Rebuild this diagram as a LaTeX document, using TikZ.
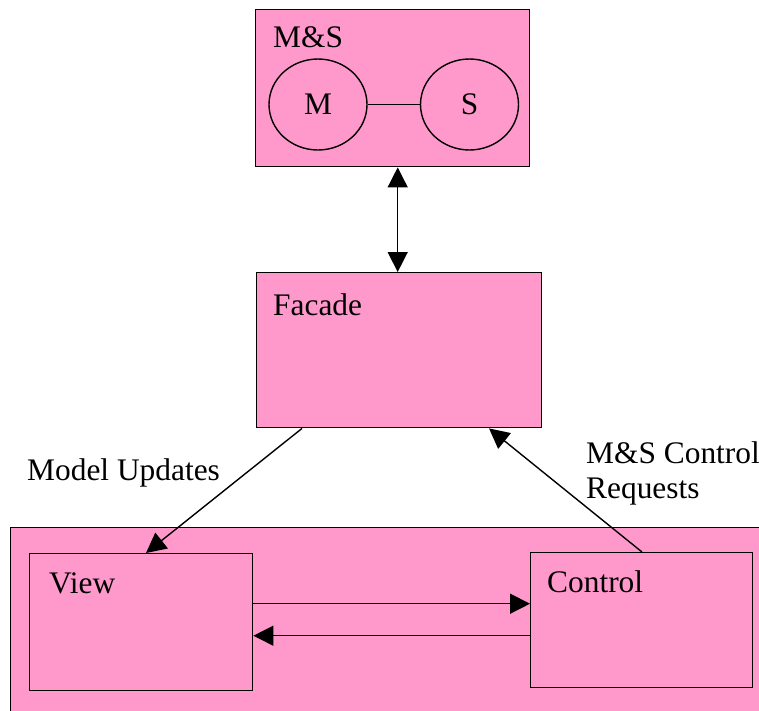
\documentclass[tikz,border=0pt]{standalone}
\usepackage{fontspec}
\setmainfont{Liberation Serif}
\usetikzlibrary{arrows.meta,positioning,shapes.geometric}
\definecolor{rosepink}{HTML}{FF99CC}
\tikzset{
  caja/.style={
    draw=black,
    fill=rosepink,
    line width=1.4pt,
    inner sep=0pt,
    anchor=north west
  },
  bola/.style={
    ellipse,
    draw=black,
    line width=1.4pt,
    inner sep=0pt,
    minimum width=98pt,
    minimum height=91pt,
    font=\fontsize{31.4pt}{35pt}\selectfont
  },
  rotulo/.style={
    inner sep=0pt,
    anchor=base west,
    align=left,
    font=\fontsize{31.4pt}{35pt}\selectfont
  },
  flecha/.style={
    -{Triangle[length=20pt,width=20pt]},
    line width=1.4pt
  },
  dflecha/.style={
    {Triangle[length=20pt,width=20pt]}-{Triangle[length=20pt,width=20pt]},
    line width=1.4pt
  }
}

\begin{document}
\begin{tikzpicture}[x=1pt,y=-1pt]
\useasboundingbox (0,0) rectangle (759,710);
\clip (0,0) rectangle (759,710);
% top block
\node[caja, minimum width=274pt, minimum height=157pt] (ms) at (255,9) {};
\node[rotulo] (mstxt) at (273,47) {M\&S};
\node[bola] (m) at (318,104.5) {M};
\node[bola] (s) at (469.5,104.5) {S};
\draw[line width=1.4pt] (m.east) -- (s.west);
% facade
\node[caja, minimum width=285pt, minimum height=155pt] (facade) at (256,272) {};
\node[rotulo] (factxt) at (273,315) {Facade};
\draw[dflecha] ([xshift=-1.5pt]ms.south -| facade.north) -- ([xshift=-1.5pt]facade.north);
% bottom block
\node[caja, minimum width=800pt, minimum height=250pt] (ui) at (10,527) {};
\node[caja, minimum width=223pt, minimum height=137pt] (view) at (29,553) {};
\node[caja, minimum width=222pt, minimum height=135pt] (control) at (530,552) {};
\node[rotulo] (viewtxt) at (49,593) {View};
\node[rotulo] (ctltxt) at (547,592) {Control};
\draw[flecha] ([yshift=18.5pt]view.east) -- ([yshift=18.5pt]view.east -| control.west);
\draw[flecha] ([yshift=-13.5pt]view.east -| control.west) -- ([yshift=-13.5pt]view.east);
% updates and requests
\draw[flecha] ([xshift=46pt]facade.south west) -- ([xshift=117pt]view.north west);
\draw[flecha] ([xshift=112pt]control.north west) -- ([xshift=233pt]facade.south west);
\node[rotulo] (updtxt) at (27,480) {Model Updates};
\node[rotulo] (reqtxt) at (586,498) {M\&S Control\\Requests};
\end{tikzpicture}
\end{document}
